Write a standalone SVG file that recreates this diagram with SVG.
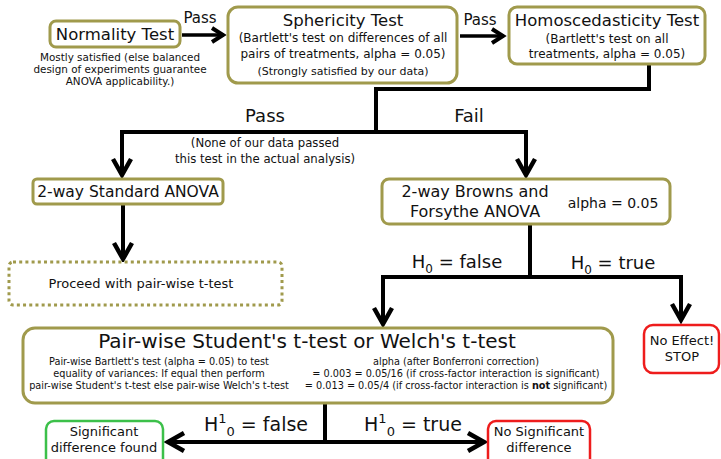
<svg xmlns="http://www.w3.org/2000/svg" width="721" height="459" viewBox="0 0 721 459">
<defs>
<style>
text{font-family:"DejaVu Sans","Liberation Sans",sans-serif;fill:#111;text-anchor:middle}
.cond{font-family:"DejaVu Sans Condensed","DejaVu Sans",sans-serif;font-stretch:condensed}
.box{fill:#fff;stroke:#a09a4c;stroke-width:3}
.dot{fill:#fff;stroke:#a09a4c;stroke-width:3;stroke-dasharray:3 3.2}
.red{fill:#fff;stroke:#ee1c1c;stroke-width:2.5}
.grn{fill:#fff;stroke:#3cc04a;stroke-width:2.5}
.ln{fill:none;stroke:#000;stroke-width:4}
.lnS{fill:none;stroke:#000;stroke-width:3.5}
</style>
<marker id="arr" viewBox="-22 -12 26 24" refX="0" refY="0" markerWidth="26" markerHeight="24" markerUnits="userSpaceOnUse" orient="auto">
<path d="M-17,-9 L-1,0 L-17,9" fill="none" stroke="#000" stroke-width="4.5"/>
</marker>
<marker id="arrS" viewBox="-18 -10 22 20" refX="0" refY="0" markerWidth="22" markerHeight="20" markerUnits="userSpaceOnUse" orient="auto">
<path d="M-12,-7 L-1,0 L-12,7" fill="none" stroke="#000" stroke-width="4"/>
</marker>
</defs>
<rect width="721" height="459" fill="#fff"/>

<g id="connectors">
<line class="lnS" x1="182" y1="35" x2="224" y2="35" marker-end="url(#arrS)"/>
<line class="lnS" x1="460" y1="36" x2="504" y2="36" marker-end="url(#arrS)"/>
<polyline class="ln" points="649,64 649,89 376,89 376,132"/>
<line class="ln" x1="120" y1="132" x2="528" y2="132"/>
<line class="ln" x1="122" y1="132" x2="122" y2="176" marker-end="url(#arr)"/>
<line class="ln" x1="526" y1="132" x2="526" y2="176" marker-end="url(#arr)"/>
<line class="ln" x1="123" y1="204" x2="123" y2="260" marker-end="url(#arr)"/>
<line class="ln" x1="530" y1="224" x2="530" y2="277"/>
<polyline class="ln" points="381,277 681,277 681,321" marker-end="url(#arr)"/>
<line class="ln" x1="383" y1="277" x2="383" y2="325" marker-end="url(#arr)"/>
<line class="ln" x1="325" y1="403" x2="325" y2="442"/>
<line class="ln" x1="325" y1="442" x2="167" y2="442" marker-end="url(#arr)"/>
<line class="ln" x1="325" y1="442" x2="485" y2="442" marker-end="url(#arr)"/>
<text x="200" y="23" font-size="15">Pass</text>
<text x="480" y="25" font-size="15">Pass</text>
<text x="265" y="122" font-size="18">Pass</text>
<text x="469" y="122" font-size="18">Fail</text>
<text class="cond" x="265" y="147" font-size="13">(None of our data passed</text>
<text class="cond" x="265" y="163" font-size="13">this test in the actual analysis)</text>
<text x="457" y="268" font-size="18">H<tspan font-size="12" dy="5">0</tspan><tspan dy="-5"> = false</tspan></text>
<text x="613" y="269" font-size="18">H<tspan font-size="12" dy="5">0</tspan><tspan dy="-5"> = true</tspan></text>
<text x="256" y="431" font-size="19">H<tspan font-size="13" dy="-8">1</tspan><tspan font-size="13" dy="13">0</tspan><tspan dy="-5"> = false</tspan></text>
<text x="413" y="431" font-size="19">H<tspan font-size="13" dy="-8">1</tspan><tspan font-size="13" dy="13">0</tspan><tspan dy="-5"> = true</tspan></text>
</g>

<g id="normality">
<rect class="box" x="50" y="21" width="130" height="26" rx="6"/>
<text x="115" y="40" font-size="16.5">Normality Test</text>
<text x="120" y="61" font-size="10.4">Mostly satisfied (else balanced</text>
<text x="120" y="73" font-size="10.4">design of experiments guarantee</text>
<text x="120" y="85" font-size="10.4">ANOVA applicability.)</text>
</g>

<g id="sphericity">
<rect class="box" x="228" y="7" width="229" height="76" rx="10"/>
<text x="343" y="26" font-size="16.5">Sphericity Test</text>
<text x="343" y="42" font-size="12">(Bartlett's test on differences of all</text>
<text x="343" y="58" font-size="12">pairs of treatments, alpha = 0.05)</text>
<text x="343" y="75" font-size="11">(Strongly satisfied by our data)</text>
</g>

<g id="homoscedasticity">
<rect class="box" x="509" y="7" width="196" height="57" rx="8"/>
<text x="607" y="26" font-size="16.5">Homoscedasticity Test</text>
<text x="607" y="43" font-size="12">(Bartlett's test on all</text>
<text x="607" y="58" font-size="12">treatments, alpha = 0.05)</text>
</g>

<g id="standard-anova">
<rect class="box" x="33" y="179" width="190" height="25" rx="4"/>
<text x="128" y="197" font-size="15.5">2-way Standard ANOVA</text>
</g>

<g id="proceed">
<rect class="dot" x="9" y="262" width="273" height="43" rx="4"/>
<text x="141" y="288" font-size="13">Proceed with pair-wise t-test</text>
</g>

<g id="browns-forsythe">
<rect class="box" x="382" y="179" width="288" height="45" rx="7"/>
<text x="475" y="197" font-size="16">2-way Browns and</text>
<text x="475" y="217" font-size="16">Forsythe ANOVA</text>
<text x="613" y="208" font-size="14">alpha = 0.05</text>
</g>

<g id="no-effect">
<rect class="red" x="644" y="325" width="75" height="48" rx="9"/>
<text x="682" y="345" font-size="13">No Effect!</text>
<text x="682" y="361" font-size="13">STOP</text>
</g>

<g id="pairwise">
<rect class="box" x="23" y="328" width="590" height="75" rx="12"/>
<text x="307" y="348" font-size="20">Pair-wise Student's t-test or Welch's t-test</text>
<text class="cond" x="159" y="365" font-size="10.8">Pair-wise Bartlett's test (alpha = 0.05) to test</text>
<text class="cond" x="159" y="377" font-size="10.8">equality of variances: If equal then perform</text>
<text class="cond" x="159" y="389" font-size="10.8">pair-wise Student's t-test else pair-wise Welch's t-test</text>
<text class="cond" x="456" y="365" font-size="10.8">alpha (after Bonferroni correction)</text>
<text class="cond" x="456" y="377" font-size="10.8">= 0.003 = 0.05/16 (if cross-factor interaction is significant)</text>
<text class="cond" x="456" y="389" font-size="10.8">= 0.013 = 0.05/4 (if cross-factor interaction is <tspan font-weight="bold">not</tspan> significant)</text>
</g>

<g id="significant">
<rect class="grn" x="46" y="421" width="117" height="50" rx="8"/>
<text x="104" y="436" font-size="13">Significant</text>
<text x="104" y="452" font-size="13">difference found</text>
</g>

<g id="no-significant">
<rect class="red" x="488" y="421" width="102" height="50" rx="8"/>
<text x="539" y="436" font-size="13">No Significant</text>
<text x="539" y="452" font-size="13">difference</text>
</g>
</svg>
